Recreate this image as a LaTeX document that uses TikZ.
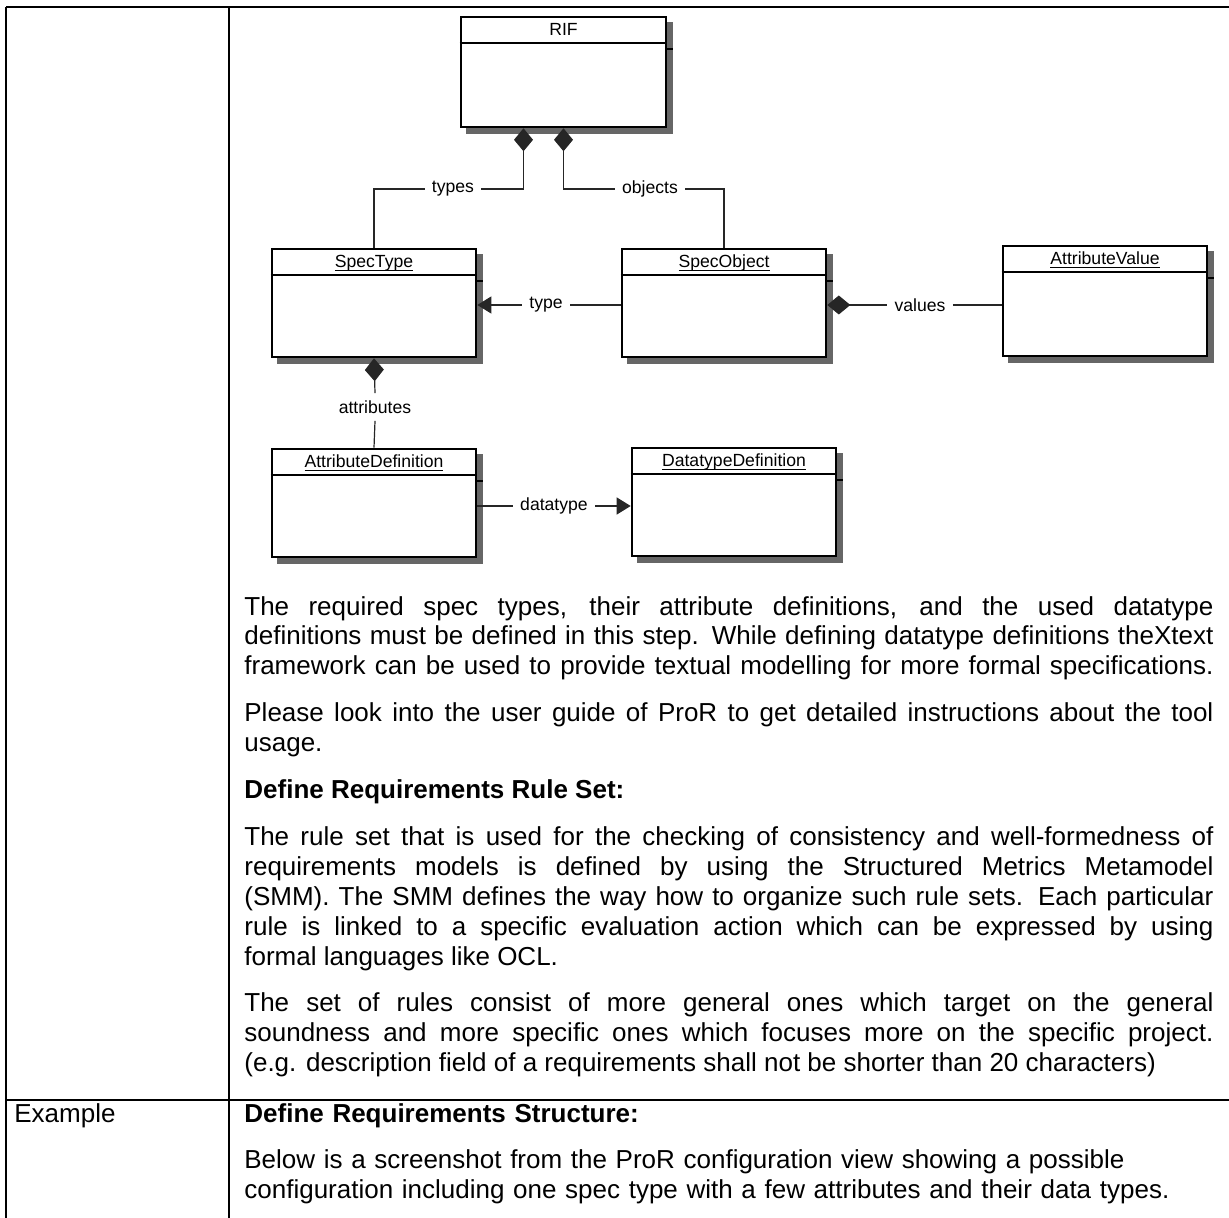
\documentclass[tikz,border=0pt]{standalone}
\usepackage{fontspec}
\setmainfont{Liberation Sans}
\usetikzlibrary{arrows.meta,backgrounds,calc,fit}

\tikzset{
  cls/.style={draw, line width=1.3pt, fill=white, inner sep=0pt},
  clsshadow/.style={fill=black!60},
  hdr/.style={line width=1.1pt},
  ttl/.style={font=\fontsize{8.8}{10}\selectfont, inner sep=0pt, anchor=base},
  lbl/.style={font=\fontsize{8.8}{10}\selectfont, inner sep=3.5pt},
  assoc/.style={line width=0.6pt, black!85},
  comp/.style={assoc, {Diamond[length=11.5pt,width=9.5pt]}-},
  dir/.style={assoc, -{Triangle[length=7pt,width=8.5pt]}},
  rule/.style={line width=0.8pt},
  body/.style={anchor=base west, inner sep=0pt, text width=484.5pt, align=justify,
    font=\fontsize{13}{14.95}\selectfont},
}

\begin{document}
\begin{tikzpicture}[x=0.5pt, y=-0.5pt]
\useasboundingbox (0,0) rectangle (1229,1218);

% table rules
\draw[rule] (6,7) -- (1229,7);
\draw[rule] (6,7) -- (6,1218);
\draw[rule] (229,7) -- (229,1218);
\draw[rule] (6,1100) -- (1229,1100);

% classes
\foreach \nm/\xa/\ya/\xb/\yb/\ti in {
  rif/461/17/666/127/{RIF},
  spectype/272/249/476/357/{\underline{\smash{SpecType}}},
  specobject/622/249/826/357/{\underline{\smash{SpecObject}}},
  attrvalue/1003/246/1207/356/{\underline{\smash{AttributeValue}}},
  attrdef/272/449/476/557/{\underline{\smash{AttributeDefinition}}},
  dtdef/632/448/836/556/{\underline{\smash{DatatypeDefinition}}}}
{
  \node[cls, fit={(\xa,\ya) (\xb,\yb)}] (\nm) {};
  \begin{scope}[on background layer]
    \fill[clsshadow] ($(\nm.north west)+(6,6)$) rectangle ($(\nm.south east)+(6,6)$);
    \draw[hdr] ($(\nm.north west)+(6,33.5)$) -- ($(\nm.north east)+(6,33.5)$);
  \end{scope}
  \draw[hdr] ($(\nm.north west)+(0,27.5)$) -- ($(\nm.north east)+(0,27.5)$);
  \node[ttl] (\nm-title) at ($(\nm.north)+(0,20)$) {\ti};
}

% RIF compositions
\node[lbl] (types) at (453,189) {types};
\node[lbl] (objects) at (650,189) {objects};
\draw[comp] ($(rif.south)+(-40,0)$) |- (types.east);
\draw[assoc] (types.west) -| (spectype.north);
\draw[comp] (rif.south) |- (objects.west);
\draw[assoc] (objects.east) -| (specobject.north);

% type
\node[lbl] (typelbl) at (546,305) {type};
\draw[assoc] (specobject.west |- typelbl) -- (typelbl.east);
\draw[dir] (typelbl.west) -- (spectype.east |- typelbl);

% values
\node[lbl] (valueslbl) at (920,305) {values};
\draw[comp] (specobject.east |- valueslbl) -- (valueslbl.west);
\draw[assoc] (valueslbl.east) -- (attrvalue.west |- valueslbl);

% attributes
\node[lbl] (attrlbl) at (375,407) {attributes};
\draw[comp] (spectype.south) -- (attrlbl.north);
\draw[assoc] (attrlbl.south) -- (attrdef.north);

% datatype
\node[lbl] (dtlbl) at (554,506) {datatype};
\draw[assoc] (attrdef.east |- dtlbl) -- (dtlbl.west);
\draw[dir] (dtlbl.east) -- (dtdef.west |- dtlbl);

% text of the first row
\node[body] (stepcell) at (244,615) {\tolerance=10000 \hbadness=10000 \setlength{\parskip}{8.5pt}%
The required spec types, their attribute definitions, and the used datatype\linebreak
definitions must be defined in this step. While defining datatype definitions theXtext\linebreak
framework can be used to provide textual modelling for more formal specifications.{\parfillskip=0pt\par}
Please look into the user guide of ProR to get detailed instructions about the tool\linebreak
usage.\par
\textbf{Define Requirements Rule Set:}\par
The rule set that is used for the checking of consistency and well-formedness of\linebreak
requirements models is defined by using the Structured Metrics Metamodel\linebreak
(SMM). The SMM defines the way how to organize such rule sets. Each particular\linebreak
rule is linked to a specific evaluation action which can be expressed by using\linebreak
formal languages like OCL.\par
The set of rules consist of more general ones which target on the general\linebreak
soundness and more specific ones which focuses more on the specific project.\linebreak
(e.g. description field of a requirements shall not be shorter than 20 characters)\par};

% second row
\node[anchor=base west, inner sep=0pt, font=\fontsize{13}{14.95}\selectfont] (exlabel) at (14,1122) {Example};
\node[body, align=left] (excell) at (244,1122) {\setlength{\parskip}{8.5pt}%
\textbf{Define Requirements Structure:}\par
Below is a screenshot from the ProR configuration view showing a possible\\
configuration including one spec type with a few attributes and their data types.\par};
\end{tikzpicture}
\end{document}
